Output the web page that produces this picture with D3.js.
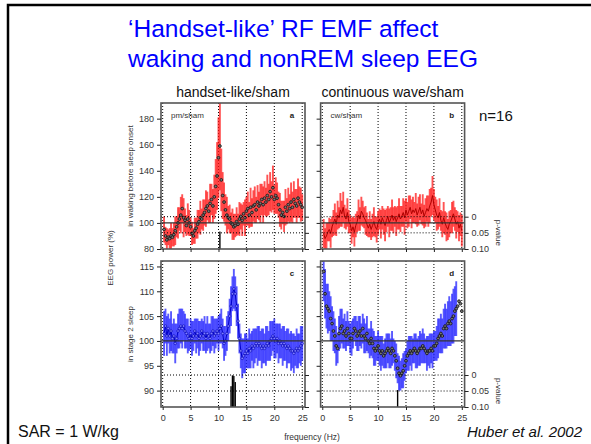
<!DOCTYPE html>
<html>
<head>
<meta charset="utf-8">
<script src="https://cdn.jsdelivr.net/npm/d3@7"></script>
<style>
  body { margin: 0; background: #fff; }
  svg { display: block; }
  text { font-family: Arial, "Liberation Sans", sans-serif; }
</style>
</head>
<body>
<svg id="chart" width="591" height="444"></svg>
<script>
// 0.25 Hz bins, 0.25 .. 25 Hz
const freqs = d3.range(1, 101).map(i => i * 0.25);

// panel a: pm/sham, waking
const pmWakeMean = [95,90,87,89, 88,90,89,91, 94,97,100,103, 106,111,104,102, 98,103,100,97, 92,90,94,96,
  99,101,104,103, 106,108,111,113, 109,115,118,113, 120,128,136,150, 159,133,121,116, 110,106,104,103,
  100,99,97,98, 101,99,103,105, 102,107,104,109, 111,106,112,108, 113,114,110,116, 113,115,118,114,
  119,116,121,118, 124,120,127,118, 121,119,114,110, 106,108,105,112, 109,114,111,116, 112,118,115,113,
  119,116,114,112];
const pmWakeSem = [10,7,9,6, 8,10,7,9, 11,8,12,9, 14,11,15,9, 8,12,10,7, 9,6,10,8, 11,9,13,8, 12,10,14,11,
  9,15,12,13, 17,21,26,31, 34,24,18,15, 12,14,9,11, 8,12,10,9, 11,8,13,10, 12,9,14,11, 13,10,15,11,
  12,14,10,13, 11,15,12,14, 13,11,16,12, 15,12,17,11, 14,12,10,13, 11,9,12,14, 10,13,11,15, 12,14,11,13,
  15,12,13,10];

// panel b: cw/sham, waking
const cwWakeMean = [92,88,90,93, 95,92,97,100, 103,99,106,104, 110,107,112,105, 103,108,101,99, 94,97,93,98,
  101,106,103,109, 107,104,102,99, 96,99,95,98, 101,97,95,100, 103,99,104,101, 98,102,105,100,
  103,106,102,105, 101,104,107,103, 105,108,104,110, 106,109,112,107, 110,108,111,106, 109,112,107,110,
  105,108,111,109, 113,116,121,114, 110,106,104,108, 102,99,104,100, 97,95,99,101, 104,107,103,99,
  101,96,99,94];
const cwWakeSem = [11,8,10,7, 9,11,8,10, 12,9,11,8, 13,10,12,9, 8,11,9,7, 10,8,11,9, 8,12,9,11, 10,8,11,9,
  7,10,8,9, 11,8,10,9, 8,11,9,10, 12,9,8,11, 9,12,10,8, 11,9,12,10, 8,11,13,9, 10,12,9,11, 10,8,12,9,
  11,10,8,12, 9,11,10,12, 13,11,15,12, 10,12,9,11, 8,10,12,9, 11,8,10,9, 12,10,9,11, 8,10,9,12];

// panel c: pm/sham, stage 2 sleep
const pmSleepMean = [101.5,103,101,102.5, 101,102,100.5,101, 99.5,100.5,102,102.5, 103,102.5,103,102,
  101.5,101,100.5,101.5, 100.5,101,102,101, 101.5,100.5,101,102, 101,101.5,100.5,101.5, 101,100.5,101.5,102,
  101,101.5,102,101.5, 102.5,103,101.5,99.5, 100,101.5,103,105, 107,109.5,110.5,109.5, 107,104,100.5,98,
  96.5,97,97.5,98, 97.5,98.5,98,99, 98.5,99,99.5,99, 99.5,99,98.5,99, 98.5,99,99.5,99, 100,100.5,101,100.5,
  100,100.5,99.5,100, 99.5,99,99.5,99, 98.5,99,98.5,98, 98,97.5,98,98.5, 98,98.5,99,99.5];
const pmSleepSem = [4.5,3.5,4,3, 3.5,4,3,3.5, 4,3,3.5,4, 3.5,4,3,3.5, 3,3.5,2.5,3, 3.5,3,2.5,3.5,
  3,3.5,3,2.5, 3,3.5,3,3.5, 2.5,3,3.5,3, 3.5,3,2.5,3.5, 3,3.5,3,3.5, 3,3.5,3,3.5, 4,3.5,4,3.5,
  4,3.5,3,3.5, 4,3.5,4,3.5, 3,4,3.5,3, 4,3.5,3,4, 3.5,3,4,3.5, 3,4,3.5,3, 4,3.5,3,4, 3.5,3,4,3.5,
  3,4,3.5,3, 4,3.5,3,4, 3.5,4,3,4, 3.5,3,4,3.5];

// panel d: cw/sham, stage 2 sleep
const cwSleepMean = [114,109.5,107,106.5, 106,104.5,103.5,102, 101,99,98.5,101.5, 102.5,103,101.5,102,
  101,102.5,101.5,100.5, 100.5,101.5,102.5,102, 101,101.5,102,101, 102.5,101,100.5,101.5, 100,99.5,100.5,99.5,
  98.5,98,98.5,99, 98,97.5,98,97, 97.5,98,98.5,98, 97.5,98.5,98,97, 96,94.5,93.5,93, 93.5,94,95,96,
  97,97.5,98,97.5, 98,98.5,98,97.5, 98,98.5,98.5,99, 98.5,98,97.5,98, 98,98.5,98,99, 99,99.5,100.5,101,
  101.5,101,102.5,103, 102.5,103.5,104,103.5, 104.5,105,106,106.5, 107,108,107.5,106];
const cwSleepSem = [6,5,4.5,5, 4,4.5,3.5,4, 3.5,4,3,3.5, 4,3.5,3,3.5, 3,3.5,2.5,3, 3.5,3,2.5,3,
  3,3.5,3,2.5, 3,3.5,3,3.5, 2.5,3,3.5,3, 3.5,3,2.5,3, 3,3.5,3,2.5, 3,3.5,3,3.5, 3,3.5,2.5,3,
  3.5,3,3.5,3, 3,3.5,3,2.5, 3,3.5,3,3.5, 2.5,3,3.5,3, 3,3.5,3,3.5, 3,2.5,3.5,3, 3.5,3,3.5,3,
  3,3.5,4,3.5, 4,3.5,4,4.5, 4,4.5,5,4.5, 5,5.5,5,5.5];

// significant bins [frequency, p]
const pmWakeSig = [[10.25, 0.046]];
const cwWakeSig = [];
const pmSleepSig = [[12.25, 0.035], [12.5, 0.001], [12.75, 0.003], [13.0, 0.022]];
const cwSleepSig = [[13.5, 0.047]];

const xTicks = [0, 5, 10, 15, 20, 25];
const yTicksWake = [80, 100, 120, 140, 160, 180];
const yTicksSleep = [90, 95, 100, 105, 110, 115];
const pTicks = [0, 0.05, 0.10];

const svg = d3.select("#chart");

// slide frame
svg.append("path").attr("d", "M8,444V5H591")
  .attr("fill", "none").attr("stroke", "#000").attr("stroke-width", 2.5);

const title = svg.append("text").attr("fill", "#0000ff").style("font-size", "24.5px");
title.append("tspan").attr("x", 128).attr("y", 37).text("\u2018Handset-like\u2019 RF EMF affect");
title.append("tspan").attr("x", 128).attr("y", 67).text("waking and nonREM sleep EEG");

const colX = [161, 320.6];
const rowY = [103, 261];
const panelW = 144, panelH = 146;
const xDomain = [-0.3, 25.5];

const rows = [
  {yDom: [80, 192], yTicks: yTicksWake, pRange: [216.7, 249], base: 100},
  {yDom: [86.7, 116.1], yTicks: yTicksSleep, pRange: [375, 407], base: 100}
];

const panels = [
  {id: "a", col: 0, row: 0, mean: pmWakeMean, sem: pmWakeSem, sig: pmWakeSig, bar: "#ff1a1a", mark: "dot", inner: "pm/sham"},
  {id: "b", col: 1, row: 0, mean: cwWakeMean, sem: cwWakeSem, sig: cwWakeSig, bar: "#ff1a1a", mark: "line", lineColor: "#b00000", inner: "cw/sham"},
  {id: "c", col: 0, row: 1, mean: pmSleepMean, sem: pmSleepSem, sig: pmSleepSig, bar: "#2020ff", mark: "open", lineColor: "#0000c8"},
  {id: "d", col: 1, row: 1, mean: cwSleepMean, sem: cwSleepSem, sig: cwSleepSig, bar: "#2020ff", mark: "dot"}
];

panels.forEach(p => {
  const x0 = colX[p.col], y0 = rowY[p.row], row = rows[p.row];
  const x = d3.scaleLinear().domain(xDomain).range([x0, x0 + panelW]);
  const y = d3.scaleLinear().domain(row.yDom).range([y0 + panelH, y0]);
  const pv = d3.scaleLinear().domain([0, 0.10]).range(row.pRange);

  const g = svg.append("g");
  svg.append("clipPath").attr("id", "clip-" + p.id)
    .append("rect").attr("x", x0).attr("y", y0).attr("width", panelW).attr("height", panelH);
  const inner = g.append("g").attr("clip-path", `url(#clip-${p.id})`);

  // dotted verticals
  inner.selectAll(".vg").data(xTicks).join("line")
    .attr("x1", d => x(d)).attr("x2", d => x(d))
    .attr("y1", y0).attr("y2", y0 + panelH)
    .attr("stroke", "#000").attr("stroke-width", 1).attr("stroke-dasharray", "1,2");

  // error bars
  inner.selectAll(".err").data(freqs).join("line")
    .attr("x1", d => x(d)).attr("x2", d => x(d))
    .attr("y1", (d, i) => y(p.mean[i] - p.sem[i]))
    .attr("y2", (d, i) => y(p.mean[i] + p.sem[i]))
    .attr("stroke", p.bar).attr("stroke-width", 1.9).attr("stroke-opacity", 0.75);

  // means
  if (p.mark === "line" || p.mark === "open") {
    inner.append("path").datum(freqs)
      .attr("d", d3.line().x(d => x(d)).y((d, i) => y(p.mean[i])))
      .attr("fill", "none").attr("stroke", p.lineColor).attr("stroke-width", 1);
  }
  if (p.mark === "dot") {
    inner.selectAll(".dot").data(freqs).join("circle")
      .attr("cx", d => x(d)).attr("cy", (d, i) => y(p.mean[i])).attr("r", 1.4)
      .attr("fill", "#777").attr("stroke", "#111").attr("stroke-width", 0.8);
  }
  if (p.mark === "open") {
    inner.selectAll(".dot").data(freqs).join("circle")
      .attr("cx", d => x(d)).attr("cy", (d, i) => y(p.mean[i])).attr("r", 1.3)
      .attr("fill", "#8080ff").attr("stroke", "#0000b0").attr("stroke-width", 0.6);
  }

  // 100 % reference line
  inner.append("line")
    .attr("x1", x0).attr("x2", x0 + panelW).attr("y1", y(row.base)).attr("y2", y(row.base))
    .attr("stroke", "#333").attr("stroke-width", 1.2);

  // p-value reference lines
  inner.selectAll(".pl").data([0, 0.05]).join("line")
    .attr("x1", x0).attr("x2", x0 + panelW)
    .attr("y1", d => pv(d)).attr("y2", d => pv(d))
    .attr("stroke", "#000").attr("stroke-width", 1).attr("stroke-dasharray", "1,2");

  // significance bars
  inner.selectAll(".sig").data(p.sig).join("rect")
    .attr("x", d => x(d[0] - 0.125)).attr("width", d => x(d[0] + 0.125) - x(d[0] - 0.125))
    .attr("y", d => pv(d[1])).attr("height", d => pv(0.10) - pv(d[1]))
    .attr("fill", "#000");

  // frame
  g.append("rect").attr("x", x0).attr("y", y0).attr("width", panelW).attr("height", panelH)
    .attr("fill", "none").attr("stroke", "#555").attr("stroke-width", 1.6);

  // axes
  const yAx = d3.axisLeft(y).tickValues(row.yTicks).tickSize(4).tickPadding(3);
  if (p.col === 1) yAx.tickFormat("");
  g.append("g").attr("transform", `translate(${x0},0)`).call(yAx);

  const pAx = d3.axisRight(pv).tickValues(pTicks).tickSize(4).tickPadding(3)
    .tickFormat(d => p.col === 1 ? (d === 0 ? "0" : d3.format(".2f")(d)) : "");
  g.append("g").attr("transform", `translate(${x0 + panelW},0)`).call(pAx);

  const xAx = d3.axisBottom(x).tickValues(xTicks).tickSize(3).tickPadding(5);
  if (p.row === 0) xAx.tickFormat("");
  g.append("g").attr("transform", `translate(0,${y0 + panelH})`).call(xAx);

  g.selectAll(".domain").remove();
  g.selectAll(".tick line").attr("stroke", "#222");
  g.selectAll(".tick text").attr("fill", "#333")
    .style("font-family", "Arial, 'Liberation Sans', sans-serif").style("font-size", "9px");

  // panel tags
  if (p.inner) {
    g.append("text").attr("x", x0 + 10).attr("y", y0 + 15).attr("fill", "#333")
      .style("font-size", "8px").text(p.inner);
  }
  g.append("text").attr("x", x0 + 131).attr("y", y0 + 15).attr("text-anchor", "middle")
    .attr("fill", "#222").style("font-size", "8px").style("font-weight", "bold").text(p.id);

  if (p.col === 1) {
    g.append("text").attr("transform", `translate(496,${(row.pRange[0] + row.pRange[1]) / 2}) rotate(90)`)
      .attr("text-anchor", "middle").attr("fill", "#333").style("font-size", "8px").text("p-value");
  }
});

// column titles
svg.append("text").attr("x", 233).attr("y", 97).attr("text-anchor", "middle")
  .style("font-size", "14px").attr("fill", "#111").text("handset-like/sham");
svg.append("text").attr("x", 392.6).attr("y", 97).attr("text-anchor", "middle")
  .style("font-size", "14px").attr("fill", "#111").text("continuous wave/sham");
svg.append("text").attr("x", 479).attr("y", 121)
  .style("font-size", "15px").attr("fill", "#111").text("n=16");

// y labels
svg.append("text").attr("transform", "translate(113,258) rotate(-90)").attr("text-anchor", "middle")
  .style("font-size", "8px").attr("fill", "#333").text("EEG power (%)");
svg.append("text").attr("transform", "translate(133,176) rotate(-90)").attr("text-anchor", "middle")
  .style("font-size", "8px").attr("fill", "#333").text("in waking before sleep onset");
svg.append("text").attr("transform", "translate(133,334) rotate(-90)").attr("text-anchor", "middle")
  .style("font-size", "8px").attr("fill", "#333").text("in stage 2 sleep");

svg.append("text").attr("x", 312).attr("y", 440).attr("text-anchor", "middle")
  .style("font-size", "8.5px").attr("fill", "#333").text("frequency (Hz)");

svg.append("text").attr("x", 18).attr("y", 437)
  .style("font-size", "16px").attr("fill", "#111").text("SAR = 1 W/kg");
svg.append("text").attr("x", 582).attr("y", 437).attr("text-anchor", "end")
  .style("font-size", "15px").style("font-style", "italic").attr("fill", "#111").text("Huber et al. 2002");
</script>
</body>
</html>
